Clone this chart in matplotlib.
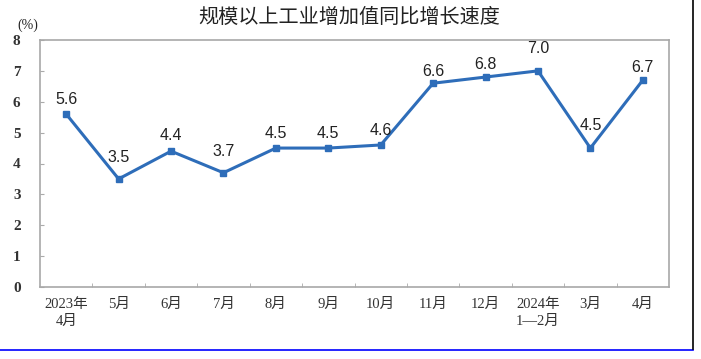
import matplotlib
matplotlib.use("Agg")
import matplotlib.pyplot as plt
from matplotlib.lines import Line2D

categories = ["2023年\n4月", "5月", "6月", "7月", "8月", "9月", "10月", "11月", "12月", "2024年\n1—2月", "3月", "4月"]
values = [5.6, 3.5, 4.4, 3.7, 4.5, 4.5, 4.6, 6.6, 6.8, 7.0, 4.5, 6.7]
yticks = [0, 1, 2, 3, 4, 5, 6, 7, 8]
title = "规模以上工业增加值同比增长速度"

# label lift above each point (pixels), style only
label_lift_px = [15, 21, 16, 21, 15, 15, 14, 12, 13, 22, 23, 13]

serif = ["Liberation Serif", "Noto Sans CJK SC"]
plt.rcParams['font.family'] = ['Noto Sans CJK SC', 'DejaVu Sans']

fig = plt.figure(figsize=(7.01, 3.59), dpi=100)
ax = fig.add_axes([40/701, 1 - 287/359, 629/701, 247/359])

x = list(range(len(values)))
color = "#2E6DB9"
ax.plot(x, values, color=color, lw=2.2, marker="s", ms=5, mec=color, mfc=color, zorder=3)
for xi, v, lift in zip(x, values, label_lift_px):
    ax.annotate(f"{v:.1f}", (xi, v), xytext=(0, lift * 0.72), textcoords="offset points",
                ha="center", va="center", fontsize=11.5, family=["Liberation Sans", "DejaVu Sans"], color="#222222")

ax.set_xlim(-0.5, len(values) - 0.5)
ax.set_ylim(0, 8)
ax.set_yticks(yticks)
ax.set_yticklabels([str(t) for t in yticks], family=serif, fontsize=11, fontweight="bold", color="#333333")
ax.set_xticks(x)
ax.set_xticklabels(categories, family=serif, fontsize=10.5, linespacing=1.4, color="#333333")
ax.tick_params(axis="x", length=0, pad=8)
ax.tick_params(axis="y", direction="in", length=3, color="#AAAAAA", pad=14)
# boundary ticks on x axis
ax.set_xticks([i + 0.5 for i in range(len(values) - 1)], minor=True)
ax.tick_params(axis="x", which="minor", direction="in", length=3, color="#AAAAAA")
for s in ax.spines.values():
    s.set_color("#A8A8A8")
    s.set_linewidth(1.2)

fig.text(349/701, 1 - 17/359, title, ha="center", va="center", fontsize=14.5, fontweight="medium", color="#222222")
fig.text(28/701, 1 - 25/359, "(%)", ha="center", va="center", fontsize=10, family=serif, color="#222222")

# outer frame lines
fig.add_artist(Line2D([0, 693/701], [1 - 350/359, 1 - 350/359], color="#0000FF", lw=1.2, transform=fig.transFigure))
fig.add_artist(Line2D([693/701, 693/701], [1, 1 - 349/359], color="black", lw=1.2, transform=fig.transFigure))

fig.savefig("out.png", dpi=100)
